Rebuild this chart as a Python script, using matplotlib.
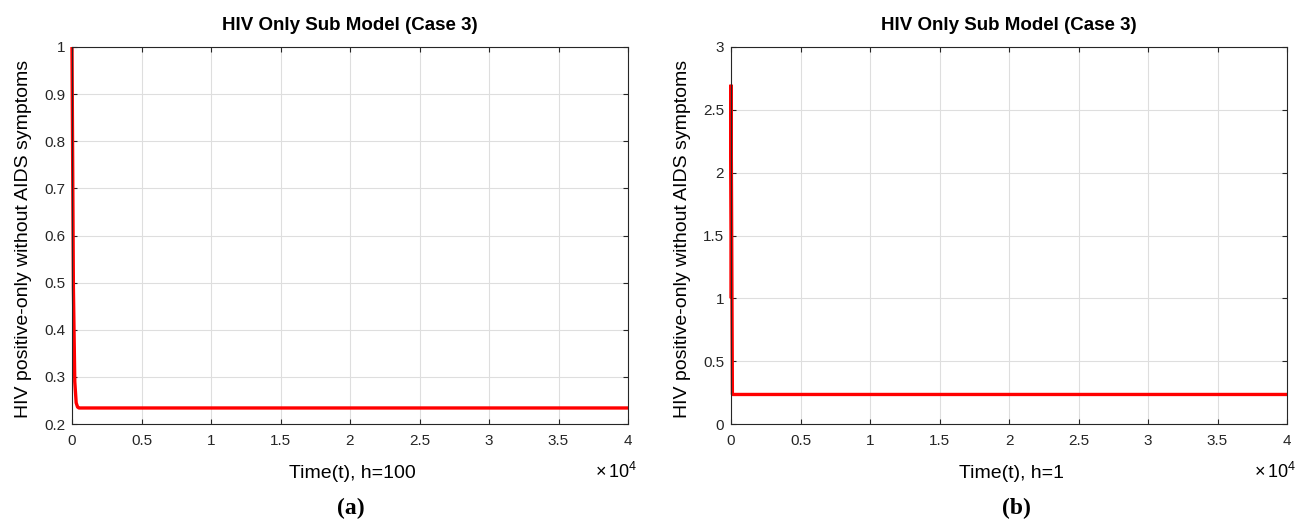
import matplotlib
matplotlib.use("Agg")
import matplotlib.pyplot as plt
from matplotlib.ticker import FixedLocator, FuncFormatter

plt.rcParams['font.family'] = ['Liberation Sans', 'DejaVu Sans']
plt.rcParams['mathtext.fontset'] = 'custom'
plt.rcParams['mathtext.rm'] = 'Liberation Sans'
plt.rcParams['mathtext.it'] = 'Liberation Sans:italic'

# ---- data ----
title_text = "HIV Only Sub Model (Case 3)"
ylabel_text = "HIV positive-only without AIDS symptoms"

t_a = [0, 100, 200, 300, 400, 500, 40000]
y_a = [1.0, 0.49, 0.29, 0.245, 0.236, 0.234, 0.234]
xlabel_a = "Time(t), h=100"
yticks_a = [0.2, 0.3, 0.4, 0.5, 0.6, 0.7, 0.8, 0.9, 1.0]
caption_a = "(a)"

t_b = [0, 1, 100, 40000]
y_b = [1.0, 2.7, 0.235, 0.235]
xlabel_b = "Time(t), h=1"
yticks_b = [0, 0.5, 1.0, 1.5, 2.0, 2.5, 3.0]
caption_b = "(b)"

xticks = [0, 5000, 10000, 15000, 20000, 25000, 30000, 35000, 40000]

W, H = 1309, 523
fig = plt.figure(figsize=(W / 100, H / 100), dpi=100)

dark = '#262626'

def make_ax(left_px, t, y, yticks, xlabel, caption, cap_x, join):
    ax = fig.add_axes([left_px / W, (H - 424) / H, 556 / W, 377 / H])
    ax.plot(t, y, color='red', lw=2.4, solid_joinstyle=join, solid_capstyle='butt',
            clip_on=False, zorder=2)
    ax.set_xlim(0, 40000)
    ax.set_ylim(yticks[0], yticks[-1])
    ax.xaxis.set_major_locator(FixedLocator(xticks))
    ax.xaxis.set_major_formatter(FuncFormatter(lambda v, p: "%g" % (v / 1e4)))
    ax.yaxis.set_major_locator(FixedLocator(yticks))
    ax.yaxis.set_major_formatter(FuncFormatter(lambda v, p: "%g" % round(v, 3)))
    ax.grid(True, color='#dedede', lw=0.8)
    ax.set_axisbelow(True)
    for s in ax.spines.values():
        s.set_color(dark)
        s.set_linewidth(0.8)
    ax.tick_params(direction='in', length=3.8, width=0.8, top=True, right=True,
                   colors=dark, labelsize=11, labelcolor=dark)
    ax.tick_params(axis='x', pad=7)
    ax.tick_params(axis='y', pad=5)
    ax.set_title(title_text, fontsize=13.5, fontweight='bold', pad=12, color='black')
    ax.text(0.505, -0.108, xlabel, transform=ax.transAxes, ha='center', va='top',
            fontsize=14, color='black')
    ax.text(-0.088, 0.49, ylabel_text, transform=ax.transAxes, ha='center', va='center',
            rotation=90, fontsize=14, color='black')
    ax.text(1.016, -0.143, r'$\times\,\mathrm{10}^{4}$', transform=ax.transAxes,
            ha='right', va='baseline', fontsize=13, color='black')
    fig.text(cap_x / W, 1 - 508 / H, caption, ha='center', va='center',
             fontsize=17, fontweight='bold', family='Liberation Serif')
    return ax

make_ax(72, t_a, y_a, yticks_a, xlabel_a, caption_a, 351, 'round')
make_ax(731, t_b, y_b, yticks_b, xlabel_b, caption_b, 1016, 'bevel')

fig.savefig("out.png", dpi=100)
